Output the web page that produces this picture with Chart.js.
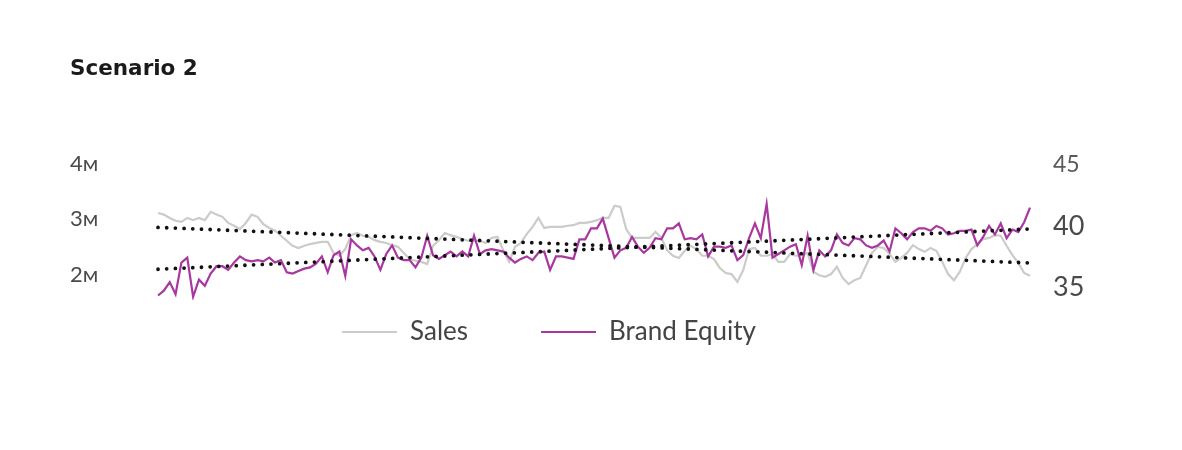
<!DOCTYPE html>
<html>
<head>
<meta charset="utf-8">
<script src="https://cdn.jsdelivr.net/npm/chart.js"></script>
<style>
html,body{margin:0;padding:0;background:#fff;overflow:hidden}
#wrap{position:absolute;left:0;top:0;width:1100px;height:450px}
</style>
</head>
<body>
<div id="wrap"><canvas id="c"></canvas></div>
<script>
// ---- data ----
const weeks = Array.from({length: 150}, (_, i) => 'W' + (i + 1));

const salesMillions = [
  3.08,3.05,2.99,2.94,2.92,2.99,2.95,2.99,2.95,3.10,
  3.05,3.01,2.90,2.85,2.79,2.90,3.05,3.01,2.88,2.81,
  2.76,2.67,2.58,2.49,2.45,2.49,2.52,2.54,2.56,2.56,
  2.36,2.31,2.43,2.68,2.72,2.67,2.65,2.59,2.56,2.54,
  2.50,2.47,2.36,2.25,2.22,2.20,2.16,2.49,2.59,2.72,
  2.68,2.65,2.61,2.58,2.58,2.58,2.54,2.63,2.65,2.41,
  2.20,2.47,2.54,2.70,2.83,2.99,2.81,2.83,2.83,2.83,
  2.85,2.86,2.90,2.90,2.92,2.95,2.99,2.99,3.21,3.19,
  2.79,2.63,2.63,2.63,2.63,2.74,2.63,2.41,2.31,2.27,
  2.40,2.49,2.43,2.31,2.31,2.25,2.09,2.00,1.98,1.84,
  2.05,2.43,2.45,2.31,2.31,2.34,2.20,2.20,2.34,2.31,
  2.32,2.36,2.02,1.96,1.93,1.98,2.11,1.91,1.80,1.87,
  1.91,2.14,2.36,2.47,2.45,2.34,2.20,2.27,2.36,2.50,
  2.43,2.38,2.45,2.40,2.20,1.98,1.87,2.02,2.27,2.43,
  2.52,2.61,2.63,2.68,2.67,2.49,2.32,2.18,2.00,1.95
];

const brandEquity = [
  34.3,34.7,35.4,34.4,37.0,37.4,34.2,35.6,35.1,36.1,
  36.7,36.7,36.4,37.0,37.5,37.2,37.1,37.2,37.1,37.4,
  37.0,37.2,36.2,36.1,36.3,36.5,36.6,36.9,37.5,36.2,
  37.6,37.9,35.9,38.9,38.4,38.0,38.2,37.5,36.4,37.7,
  38.4,37.4,37.2,37.2,36.6,37.4,39.2,37.6,37.3,37.6,
  37.9,37.5,37.9,37.5,39.2,37.7,38.0,38.1,38.0,37.9,
  37.4,37.0,37.3,37.5,37.2,37.8,37.9,36.4,37.5,37.5,
  37.4,37.3,38.9,38.9,39.8,39.8,40.6,39.0,37.4,38.0,
  38.2,39.1,38.3,37.8,38.2,39.0,38.9,39.8,39.8,40.2,
  38.9,39.0,38.9,39.3,37.5,38.3,38.3,38.2,38.4,37.2,
  37.6,39.0,40.2,39.0,41.8,37.4,37.7,38.0,38.3,38.5,
  36.8,39.2,36.4,38.0,37.5,38.0,39.3,38.6,38.4,39.0,
  38.9,38.4,38.2,38.4,38.8,37.9,39.8,39.4,38.9,39.5,
  39.8,39.8,39.6,40.0,39.8,39.3,39.4,39.6,39.6,39.7,
  38.4,39.1,40.0,39.3,40.2,39.0,39.7,39.5,40.3,41.5
];

// trend lines: [start, end]
const salesTrend = [2.82, 2.18];
const brandTrend = [36.45, 39.75];

const leftTicks = [2, 3, 4];
const leftTickLabels = ['2ᴍ', '3ᴍ', '4ᴍ'];
const rightTicks = [35, 40, 45];
const rightTickLabels = ['35', '40', '45'];

// ---- build ----
const last = weeks.length - 1;
const trendData = (pair) => weeks.map((_, i) => i === 0 ? pair[0] : (i === last ? pair[1] : null));

const FONT = 'Lato, "Open Sans", sans-serif';
const LEGEND_TOP = 246;     // top of legend block
const LEGEND_CENTER = 549;  // horizontal centre of legend content

const legendPlace = {
  id: 'legendPlace',
  afterLayout(chart) {
    const lg = chart.legend;
    if (!lg) return;
    const dy = LEGEND_TOP - lg.top;
    const dx = LEGEND_CENTER - (lg.left + lg.right) / 2;
    lg.top += dy; lg.bottom += dy;
    lg.left += dx; lg.right += dx;
  }
};

new Chart(document.getElementById('c'), {
  type: 'line',
  data: {
    labels: weeks,
    datasets: [
      { label: 'Sales', data: salesMillions, yAxisID: 'yL', borderColor: '#cbcbc7', backgroundColor: '#cbcbc7',
        borderWidth: 2.2, pointRadius: 0, tension: 0, order: 4 },
      { label: 'Brand Equity', data: brandEquity, yAxisID: 'yR', borderColor: '#a8379f', backgroundColor: '#a8379f',
        borderWidth: 2.2, pointRadius: 0, tension: 0, order: 3 },
      { label: 'Sales trend', data: trendData(salesTrend), yAxisID: 'yL', borderColor: '#111', backgroundColor: '#111',
        borderWidth: 3.8, borderDash: [0, 8.7], borderCapStyle: 'round', pointRadius: 0, spanGaps: true, order: 1 },
      { label: 'Brand Equity trend', data: trendData(brandTrend), yAxisID: 'yR', borderColor: '#111', backgroundColor: '#111',
        borderWidth: 3.8, borderDash: [0, 8.7], borderCapStyle: 'round', pointRadius: 0, spanGaps: true, order: 2 }
    ]
  },
  options: {
    responsive: true,
    maintainAspectRatio: false,
    animation: false,
    devicePixelRatio: 1,
    layout: { padding: { left: 70, right: 8, top: 0, bottom: 41 } },
    scales: {
      x: { display: false, offset: false },
      yL: {
        position: 'left', min: 1.5135, max: 4.2162,
        grid: { display: false, drawTicks: false }, border: { display: false },
        afterBuildTicks: s => { s.ticks = leftTicks.map(v => ({ value: v })); },
        afterFit: s => { s.width = 88; },
        ticks: {
          crossAlign: 'far', padding: 0, labelOffset: 2, color: '#4a4a4a',
          font: { family: FONT, size: 22 },
          callback: v => leftTickLabels[leftTicks.indexOf(v)]
        }
      },
      yR: {
        position: 'right', min: 33.934, max: 46.2295,
        grid: { display: false, drawTicks: false }, border: { display: false },
        afterBuildTicks: s => { s.ticks = rightTicks.map(v => ({ value: v })); },
        afterFit: s => { s.width = 62; },
        ticks: {
          padding: 23,
          color: ctx => ctx.tick && ctx.tick.value === 45 ? '#5a5a5a' : '#4a4a4a',
          font: ctx => ({ family: FONT, size: ctx.tick && ctx.tick.value === 45 ? 23 : 27 }),
          callback: v => rightTickLabels[rightTicks.indexOf(v)]
        }
      }
    },
    plugins: {
      title: {
        display: true, text: 'Scenario 2', align: 'start', color: '#1a1a1a',
        font: { family: '"DejaVu Sans", Lato, sans-serif', size: 21.5, weight: 'bold' },
        padding: { top: 57, bottom: 67 }
      },
      legend: {
        display: true, position: 'bottom',
        labels: {
          boxWidth: 55, boxHeight: 2, padding: 73, color: '#444',
          font: { family: FONT, size: 26 },
          generateLabels: chart => Chart.defaults.plugins.legend.labels.generateLabels(chart)
            .filter(l => l.datasetIndex < 2)
            .sort((a, b) => a.datasetIndex - b.datasetIndex)
            .map(l => Object.assign({}, l, { lineWidth: 0 }))
        }
      },
      tooltip: { enabled: false }
    }
  },
  plugins: [legendPlace]
});
</script>
</body>
</html>
